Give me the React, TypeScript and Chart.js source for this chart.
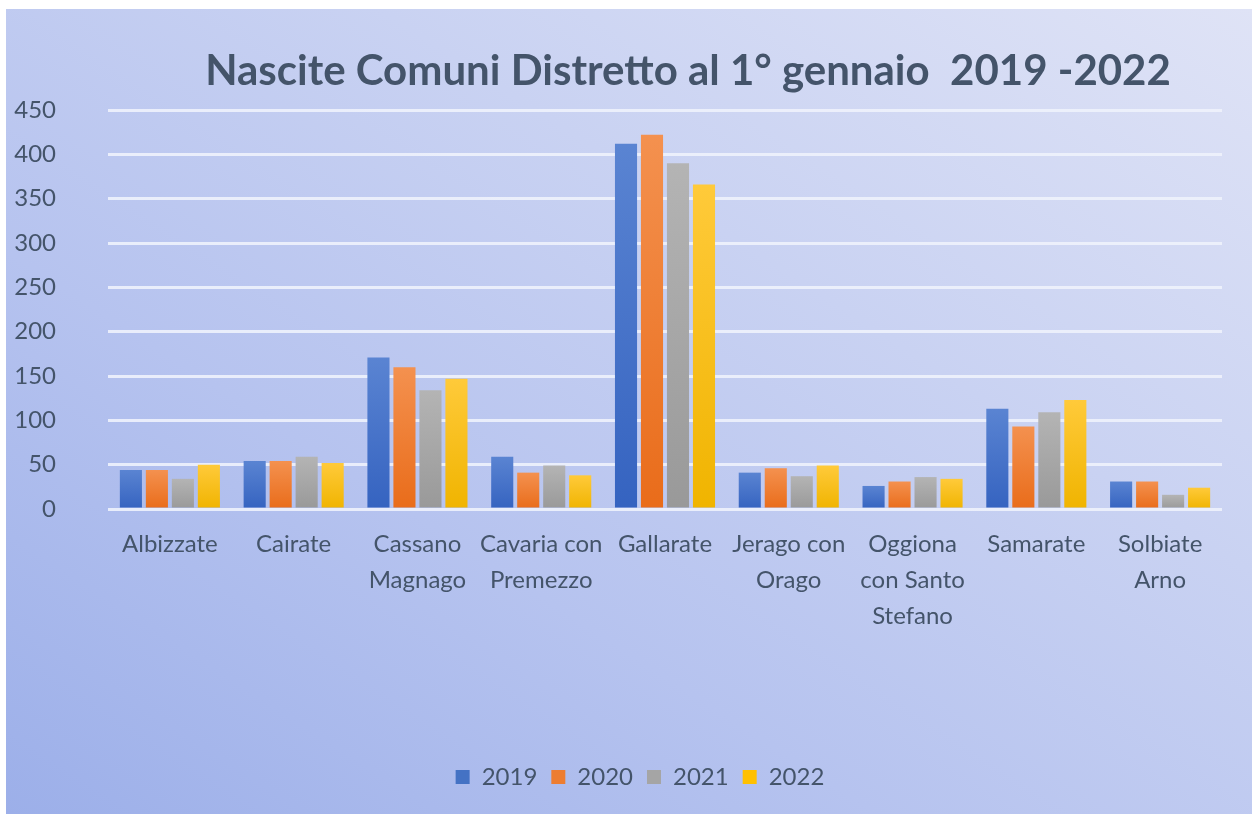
import React, { useEffect, useRef } from "react";
import { Chart, registerables } from "chart.js";

Chart.register(...registerables);

const TITLE = "Nascite Comuni Distretto al 1° gennaio  2019 -2022";

const categories: string[][] = [
  ["Albizzate"],
  ["Cairate"],
  ["Cassano", "Magnago"],
  ["Cavaria con", "Premezzo"],
  ["Gallarate"],
  ["Jerago con", "Orago"],
  ["Oggiona", "con Santo", "Stefano"],
  ["Samarate"],
  ["Solbiate", "Arno"],
];

const seriesNames = ["2019", "2020", "2021", "2022"];
const values2019 = [44, 54, 171, 59, 412, 41, 26, 113, 31];
const values2020 = [44, 54, 160, 41, 422, 46, 31, 93, 31];
const values2021 = [34, 59, 134, 49, 390, 37, 36, 109, 16];
const values2022 = [50, 52, 147, 38, 366, 49, 34, 123, 24];

const yTicks = [0, 50, 100, 150, 200, 250, 300, 350, 400, 450];

const baseColors = ["#4472c4", "#ed7d31", "#a5a5a5", "#ffc000"];
const topColors = ["#5a84d2", "#f4914f", "#b4b4b4", "#ffca3a"];
const bottomColors = ["#3563c0", "#e96c1a", "#999999", "#f0b400"];

const TEXT = "#44546a";
const FONT = "Lato, 'Open Sans', sans-serif";

export default function App() {
  const ref = useRef<HTMLCanvasElement | null>(null);

  useEffect(() => {
    if (!ref.current) return;
    const allValues = [values2019, values2020, values2021, values2022];

    const makeBg = (i: number) => (ctx: any) => {
      const chart = ctx.chart;
      const area = chart.chartArea;
      const v = ctx.parsed ? ctx.parsed.y : undefined;
      if (!area || v === undefined || ctx.type !== "data") return baseColors[i];
      const ys = chart.scales.y;
      const top = ys.getPixelForValue(v);
      const bottom = ys.getPixelForValue(0);
      if (!isFinite(top) || !isFinite(bottom) || top === bottom) return baseColors[i];
      const g = chart.ctx.createLinearGradient(0, top, 0, bottom);
      g.addColorStop(0, topColors[i]);
      g.addColorStop(1, bottomColors[i]);
      return g;
    };

    const titlePlugin = {
      id: "customTitle",
      afterLayout(chart: any) {
        if (chart.legend) {
          chart.legend.left += 26;
          chart.legend.right += 26;
        }
      },
      afterDraw(chart: any) {
        const c = chart.ctx;
        c.save();
        c.font = `bold 42px ${FONT}`;
        c.fillStyle = TEXT;
        c.textAlign = "center";
        c.textBaseline = "middle";
        c.fillText(TITLE, 682, 62);
        c.restore();
      },
    };

    const chart = new Chart(ref.current, {
      type: "bar",
      data: {
        labels: categories,
        datasets: seriesNames.map((name, i) => ({
          label: name,
          data: allValues[i],
          backgroundColor: makeBg(i),
          borderWidth: 0,
          categoryPercentage: 0.84,
          barPercentage: 0.85,
        })),
      },
      options: {
        animation: false,
        responsive: false,
        layout: { padding: { top: 101, right: 30, bottom: 15, left: 0 } },
        plugins: {
          title: { display: false },
          tooltip: { enabled: false },
          legend: {
            position: "bottom",
            labels: {
              color: TEXT,
              font: { family: FONT, size: 24 },
              boxWidth: 14,
              boxHeight: 14,
              padding: 14,
              generateLabels: () =>
                seriesNames.map((name, i) => ({
                  text: name,
                  fillStyle: baseColors[i],
                  strokeStyle: baseColors[i],
                  lineWidth: 0,
                  fontColor: TEXT,
                  hidden: false,
                  datasetIndex: i,
                })),
            },
          },
        },
        scales: {
          x: {
            grid: { display: false, drawTicks: false },
            border: { display: false },
            ticks: {
              color: TEXT,
              font: { family: FONT, size: 24, lineHeight: "36px" },
              maxRotation: 0,
              autoSkip: false,
              padding: 17,
            },
            afterFit: (scale: any) => {
              scale.height = 242;
            },
          },
          y: {
            min: 0,
            max: 450,
            afterBuildTicks: (scale: any) => {
              scale.ticks = yTicks.map((v) => ({ value: v }));
            },
            grid: {
              color: "rgba(238,242,252,0.9)",
              lineWidth: 3,
              drawTicks: false,
            },
            border: { display: false },
            ticks: {
              color: TEXT,
              font: { family: FONT, size: 24 },
              padding: 52,
            },
            afterFit: (scale: any) => {
              scale.width = 102;
            },
          },
        },
      },
      plugins: [titlePlugin],
    });
    return () => chart.destroy();
  }, []);

  return (
    <div
      style={{
        position: "absolute",
        left: 0,
        top: 0,
        width: 1252,
        height: 814,
        background: "#ffffff",
        overflow: "hidden",
      }}
    >
      <div
        style={{
          position: "absolute",
          left: 6,
          top: 9,
          width: 1246,
          height: 805,
          background:
            "linear-gradient(to top right, #9cafe9 0%, #b6c3ef 35%, #c9d2f2 65%, #dfe3f6 100%)",
        }}
      >
        <canvas ref={ref} width={1246} height={805} style={{ display: "block" }} />
      </div>
    </div>
  );
}
